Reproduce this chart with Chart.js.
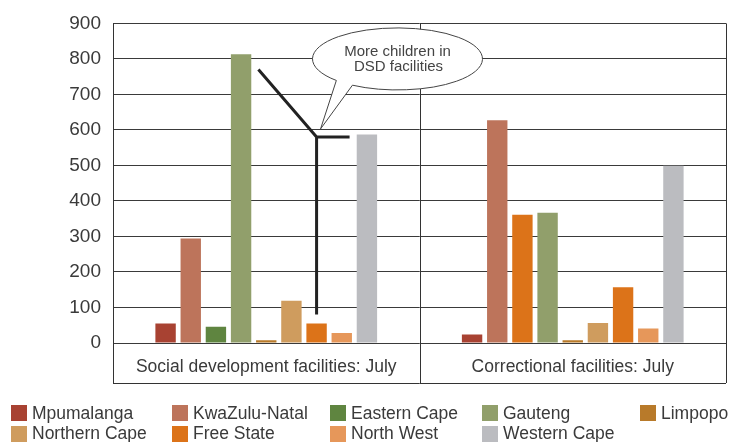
<!DOCTYPE html>
<html>
<head>
<meta charset="utf-8">
<script src="https://cdn.jsdelivr.net/npm/chart.js@4"></script>
<style>
  body { margin: 0; background: #fff; }
  #wrap { position: relative; width: 731px; height: 442px; overflow: hidden; }
  #legend {
    position: absolute; left: 11px; top: 403px;
    display: grid; grid-template-columns: 161px 158px 152px 158px 90px;
    grid-auto-rows: 20.5px;
    font-family: "Liberation Sans", Arial, sans-serif; font-size: 17.5px; color: #3a3a3a;
  }
  #legend .item { display: flex; align-items: center; white-space: nowrap; }
  #legend .box { width: 16px; height: 16px; margin-right: 5px; flex: none; }
</style>
</head>
<body>
<div id="wrap">
  <canvas id="chart" width="731" height="442"></canvas>
  <div id="legend"></div>
</div>
<script>
// Children in facilities, July
const categories = ['Social development facilities: July', 'Correctional facilities: July'];
const provinces = ['Mpumalanga', 'KwaZulu-Natal', 'Eastern Cape', 'Gauteng', 'Limpopo',
                   'Northern Cape', 'Free State', 'North West', 'Western Cape'];
const mpumalanga   = [55, 24];
const kwazuluNatal = [294, 627];
const easternCape  = [46, 361];
const gauteng      = [813, 367];
const limpopo      = [8, 8];
const northernCape = [119, 56];
const freeState    = [55, 157];
const northWest    = [28, 41];
const westernCape  = [587, 499];
const yTicks = [0, 100, 200, 300, 400, 500, 600, 700, 800, 900];
const calloutText = ['More children in', 'DSD facilities'];

const seriesValues = [mpumalanga, kwazuluNatal, easternCape, gauteng, limpopo,
                      northernCape, freeState, northWest, westernCape];
const colours = ['#a84232', '#bd745b', '#5f8540', '#919f6b', '#b87a2a',
                 '#cf9c5e', '#dc7319', '#e6975a', '#bbbcc0'];

const FONT = '"Liberation Sans", Arial, sans-serif';
const INK = '#3a3a3a';

// outer frame + category boxes under the axis
const framePlugin = {
    id: 'frame',
    beforeDatasetsDraw(chart) {
        const { ctx, chartArea, scales: { x } } = chart;
        const px = v => Math.round(v) + 0.5;
        const mid = (x.getPixelForTick(0) + x.getPixelForTick(1)) / 2;
        ctx.save();
        ctx.strokeStyle = '#333';
        ctx.lineWidth = 1;
        ctx.beginPath();
        [chartArea.left, mid, chartArea.right].forEach(v => {
            ctx.moveTo(px(v), chartArea.top);
            ctx.lineTo(px(v), x.bottom);
        });
        ctx.moveTo(chartArea.left, px(x.bottom));
        ctx.lineTo(chartArea.right, px(x.bottom));
        ctx.stroke();
        ctx.restore();
    }
};

// bracket lines and the speech bubble
const calloutPlugin = {
    id: 'callout',
    afterDatasetsDraw(chart) {
        const { ctx, scales: { y } } = chart;
        const bar = i => chart.getDatasetMeta(i).data[0];
        const g = bar(3), fs = bar(6), wc = bar(8);
        const joint = y.getPixelForValue(580);

        ctx.save();
        ctx.strokeStyle = '#222';
        ctx.lineWidth = 3;
        ctx.beginPath();
        ctx.moveTo(g.x + g.width * 0.85, y.getPixelForValue(770));
        ctx.lineTo(fs.x, joint);
        ctx.lineTo(wc.x - wc.width * 0.85, joint);
        ctx.moveTo(fs.x, joint);
        ctx.lineTo(fs.x, y.getPixelForValue(80));
        ctx.stroke();

        // bubble
        const cx = wc.x + wc.width * 1.5, cy = y.getPixelForValue(800);
        const rx = 85, ry = 31;
        const a1 = 122 * Math.PI / 180, a2 = 136 * Math.PI / 180;
        const tipX = fs.x + 4, tipY = y.getPixelForValue(603);
        ctx.beginPath();
        ctx.moveTo(cx + rx * Math.cos(a1), cy + ry * Math.sin(a1));
        ctx.lineTo(tipX, tipY);
        ctx.lineTo(cx + rx * Math.cos(a2), cy + ry * Math.sin(a2));
        ctx.ellipse(cx, cy, rx, ry, 0, a2, a1 + Math.PI * 2, false);
        ctx.closePath();
        ctx.fillStyle = '#fff';
        ctx.fill();
        ctx.strokeStyle = '#444';
        ctx.lineWidth = 1;
        ctx.stroke();

        ctx.fillStyle = '#444';
        ctx.font = '15px ' + FONT;
        ctx.textAlign = 'center';
        ctx.textBaseline = 'middle';
        ctx.fillText(calloutText[0], cx, cy - 7);
        ctx.fillText(calloutText[1], cx + 1, cy + 8);
        ctx.restore();
    }
};

const ctx = document.getElementById('chart').getContext('2d');
const chart = new Chart(ctx, {
    type: 'bar',
    data: {
        labels: categories,
        datasets: provinces.map((name, i) => ({
            label: name,
            data: seriesValues[i],
            // the second Eastern Cape bar is printed in Free State orange
            backgroundColor: i === 2 ? [colours[2], colours[6]] : colours[i],
            borderWidth: 0,
            categoryPercentage: 0.739,
            barPercentage: 0.81
        }))
    },
    options: {
        responsive: false,
        animation: false,
        layout: { padding: { top: 23, right: 5, bottom: 59, left: 0 } },
        plugins: { legend: { display: false }, tooltip: { enabled: false } },
        scales: {
            x: {
                grid: { display: false, drawTicks: false },
                border: { display: false },
                ticks: { color: INK, font: { family: FONT, size: 17.5 }, padding: 14 },
                afterFit: s => { s.height = 40; }
            },
            y: {
                min: 0,
                max: 900,
                afterBuildTicks: s => { s.ticks = yTicks.map(v => ({ value: v })); },
                grid: { color: '#3a3a3a', lineWidth: 1, drawTicks: false },
                border: { display: false },
                ticks: { color: INK, font: { family: FONT, size: 19 }, padding: 12 },
                afterFit: s => { s.width = 113; }
            }
        }
    },
    plugins: [framePlugin, calloutPlugin]
});

// legend built from the datasets, laid out in fixed columns
const legend = document.getElementById('legend');
chart.data.datasets.forEach((ds, i) => {
    const item = document.createElement('div');
    item.className = 'item';
    const box = document.createElement('span');
    box.className = 'box';
    box.style.background = colours[i];
    item.appendChild(box);
    item.appendChild(document.createTextNode(ds.label));
    legend.appendChild(item);
});
</script>
</body>
</html>
